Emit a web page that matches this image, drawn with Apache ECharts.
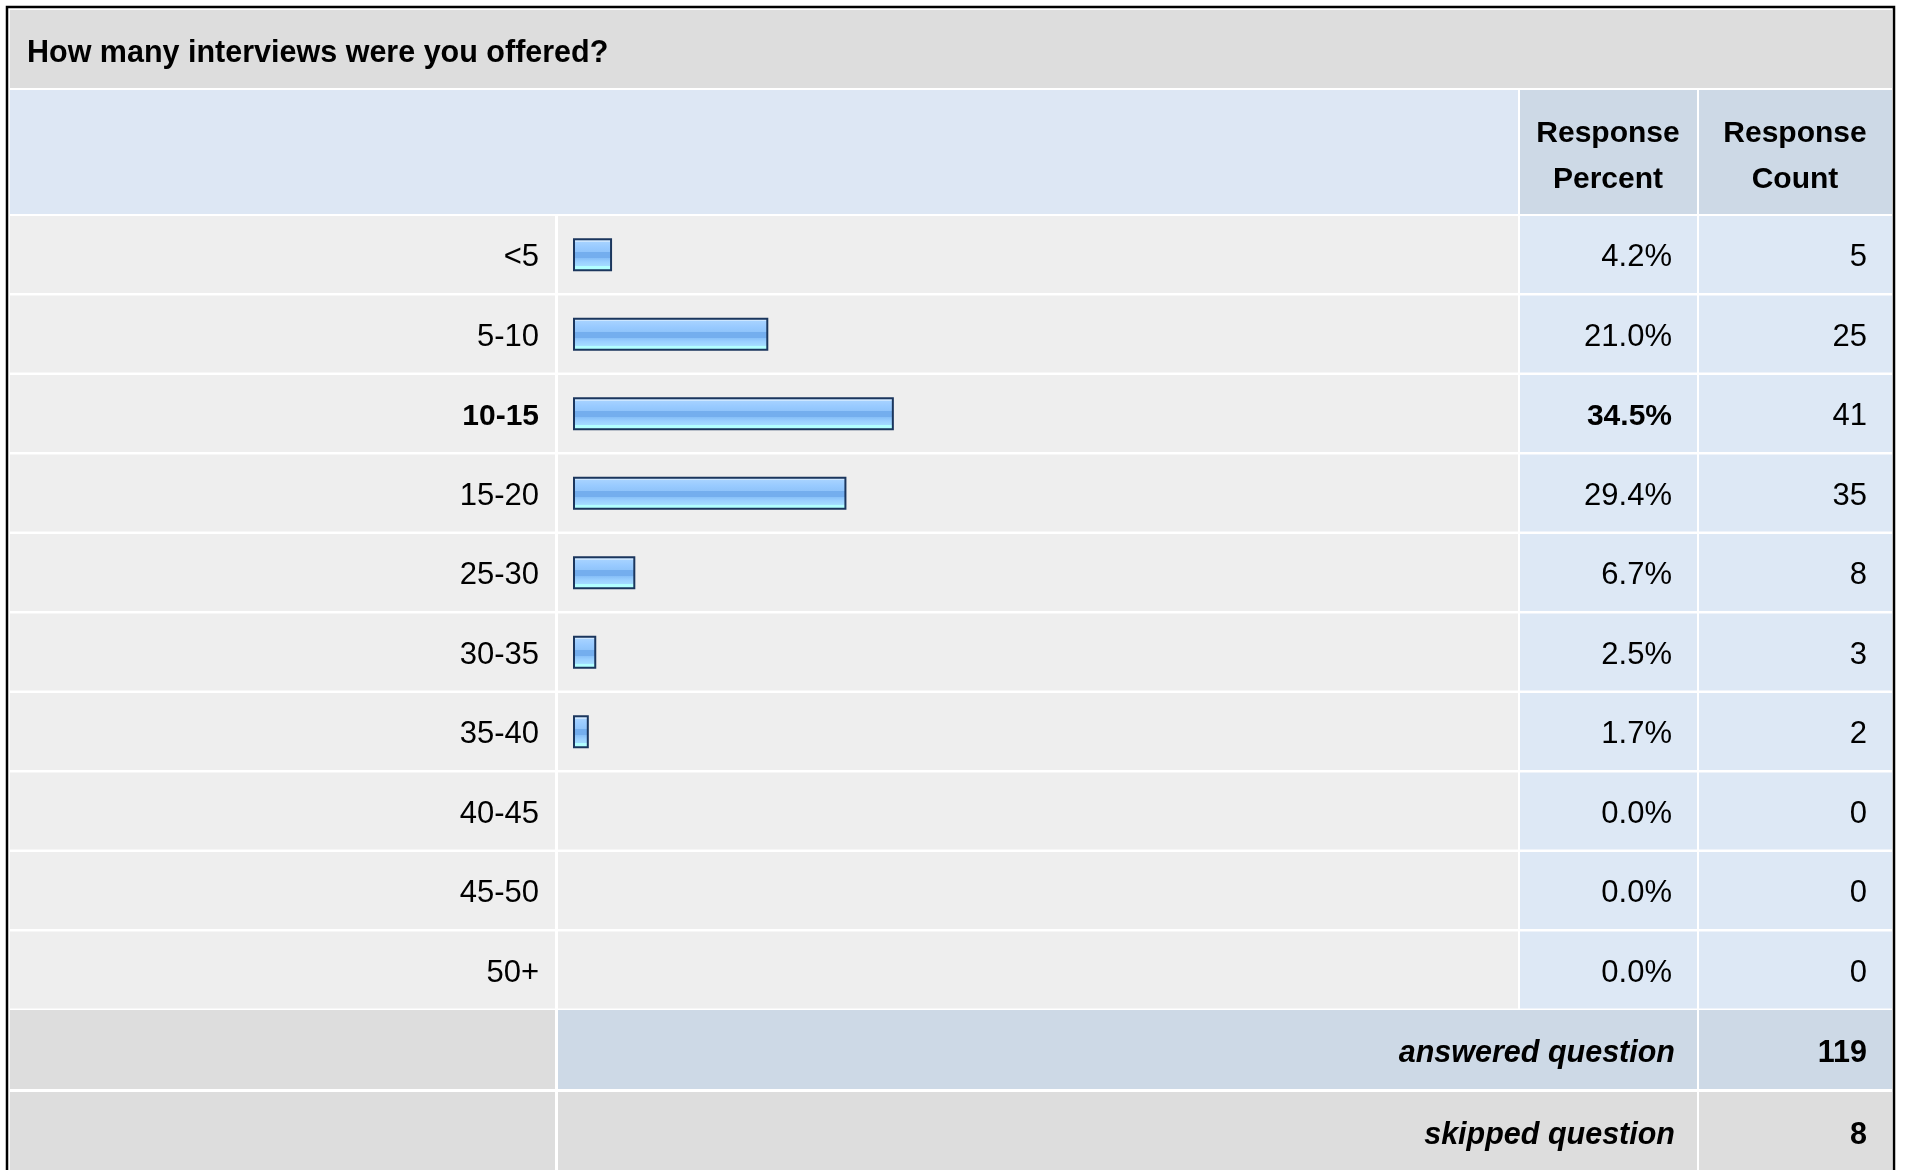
<!DOCTYPE html>
<html>
<head>
<meta charset="utf-8">
<script src="https://cdn.jsdelivr.net/npm/echarts@6/dist/echarts.min.js"></script>
<style>
  html, body { margin: 0; padding: 0; background: #fff; }
  #main { width: 1907px; height: 1170px; }
</style>
</head>
<body>
<div id="main"></div>
<script>
// survey data
const question = "How many interviews were you offered?";
const categories = ["<5", "5-10", "10-15", "15-20", "25-30", "30-35", "35-40", "40-45", "45-50", "50+"];
const percents = [4.2, 21.0, 34.5, 29.4, 6.7, 2.5, 1.7, 0.0, 0.0, 0.0];
const counts = [5, 25, 41, 35, 8, 3, 2, 0, 0, 0];
const headers = ["Response\nPercent", "Response\nCount"];
const summaryLabels = ["answered question", "skipped question"];
const summaryCounts = [119, 8];

const FONT = "'Liberation Sans', Arial, Helvetica, sans-serif";
const maxIdx = percents.indexOf(Math.max(...percents));

function txt(text, x, y, align, weight, size) {
  const font = (weight || "normal") + " " + (size || 31) + "px " + FONT;
  return {
    type: "text",
    style: {
      text: text, x: x, y: y, font: font, fill: "#000",
      align: align, textAlign: align,
      verticalAlign: "middle", textVerticalAlign: "middle"
    }
  };
}

// one table row behind each category
function renderRow(params, api) {
  const i = params.dataIndex;
  const c = api.coord([0, i]);
  const h = api.size([0, 1])[1];
  const top = c[1] - h / 2 + 1;
  const hh = h - 2.5;
  const w = i === maxIdx ? "bold" : "normal";
  const ty = c[1] + 3;
  return {
    type: "group",
    children: [
      { type: "rect", shape: { x: 10, y: top, width: 545, height: hh }, style: { fill: "#eeeeee" } },
      { type: "rect", shape: { x: 558, y: top, width: 960, height: hh }, style: { fill: "#eeeeee" } },
      { type: "rect", shape: { x: 1520, y: top, width: 177, height: hh }, style: { fill: "#dde8f5" } },
      { type: "rect", shape: { x: 1699, y: top, width: 193, height: hh }, style: { fill: "#dde8f5" } },
      txt(categories[i], 539, ty, "right", w, i === maxIdx ? 30 : 31),
      txt(percents[i].toFixed(1) + "%", 1672, ty, "right", w, i === maxIdx ? 30 : 31),
      txt(String(counts[i]), 1867, ty, "right", "normal"),
    ],
  };
}

const myChart = echarts.init(document.getElementById("main"));

const barColor = {
  type: "linear", x: 0, y: 0, x2: 0, y2: 1,
  colorStops: [
    { offset: 0, color: "#cce6ff" },
    { offset: 0.1, color: "#cce6ff" },
    { offset: 0.11, color: "#a6d2ff" },
    { offset: 0.28, color: "#98caff" },
    { offset: 0.42, color: "#90c4fa" },
    { offset: 0.43, color: "#74aeee" },
    { offset: 0.6, color: "#74aeee" },
    { offset: 0.61, color: "#88c0f8" },
    { offset: 0.72, color: "#9ad0ff" },
    { offset: 0.84, color: "#a4dcff" },
    { offset: 0.85, color: "#b2ffff" },
    { offset: 1, color: "#b2ffff" },
  ],
};

const summaryRows = summaryLabels.map((label, k) => {
  const top = 1010 + k * 82;
  const mid = k === 0 ? "#cdd9e6" : "#dddddd";
  return [
    { type: "rect", shape: { x: 10, y: top, width: 545, height: 79 }, style: { fill: "#dddddd" } },
    { type: "rect", shape: { x: 558, y: top, width: 1139, height: 79 }, style: { fill: mid } },
    { type: "rect", shape: { x: 1699, y: top, width: 193, height: 79 }, style: { fill: mid } },
    txt(label, 1675, top + 43.5, "right", "italic bold", 30.5),
    txt(String(summaryCounts[k]), 1867, top + 43.5, "right", "bold", 30.5),
  ];
}).flat();

const option = {
  animation: false,
  backgroundColor: "#fff",
  grid: { left: 573, top: 215, width: 930, height: 795 },
  xAxis: { type: "value", min: 0, max: 100, show: false },
  yAxis: { type: "category", data: categories, inverse: true, show: false },
  graphic: [
    // outer frame
    { type: "rect", shape: { x: 7, y: 7, width: 1887, height: 1200 }, style: { fill: "none", stroke: "#000", lineWidth: 2.5 } },
    // title band
    { type: "rect", shape: { x: 10, y: 10, width: 1882, height: 78 }, style: { fill: "#dddddd" } },
    txt(question, 27, 53.5, "left", "bold", 30.5),
    // header band
    { type: "rect", shape: { x: 10, y: 90, width: 1508, height: 124 }, style: { fill: "#dde7f4" } },
    { type: "rect", shape: { x: 1520, y: 90, width: 177, height: 124 }, style: { fill: "#cdd9e6" } },
    { type: "rect", shape: { x: 1699, y: 90, width: 193, height: 124 }, style: { fill: "#cdd9e6" } },
    {
      type: "text",
      style: { text: headers[0], x: 1608, y: 156.5, font: "bold 30px " + FONT, lineHeight: 46, fill: "#000",
        align: "center", textAlign: "center", verticalAlign: "middle", textVerticalAlign: "middle" },
    },
    {
      type: "text",
      style: { text: headers[1], x: 1795, y: 156.5, font: "bold 30px " + FONT, lineHeight: 46, fill: "#000",
        align: "center", textAlign: "center", verticalAlign: "middle", textVerticalAlign: "middle" },
    },
  ].concat(summaryRows),
  series: [
    {
      type: "custom",
      z: 1,
      silent: true,
      renderItem: renderRow,
      data: categories.map((c, i) => [0, i]),
      encode: { x: 0, y: 1 },
    },
    {
      type: "bar",
      z: 2,
      barWidth: 33,
      data: percents.map((p) => ({
        value: p,
        itemStyle: p === 0 ? { borderWidth: 0, color: "transparent" } : undefined,
      })),
      itemStyle: {
        color: barColor,
        borderColor: "#1b365d",
        borderWidth: 2,
      },
    },
  ],
};

myChart.setOption(option);
</script>
</body>
</html>
